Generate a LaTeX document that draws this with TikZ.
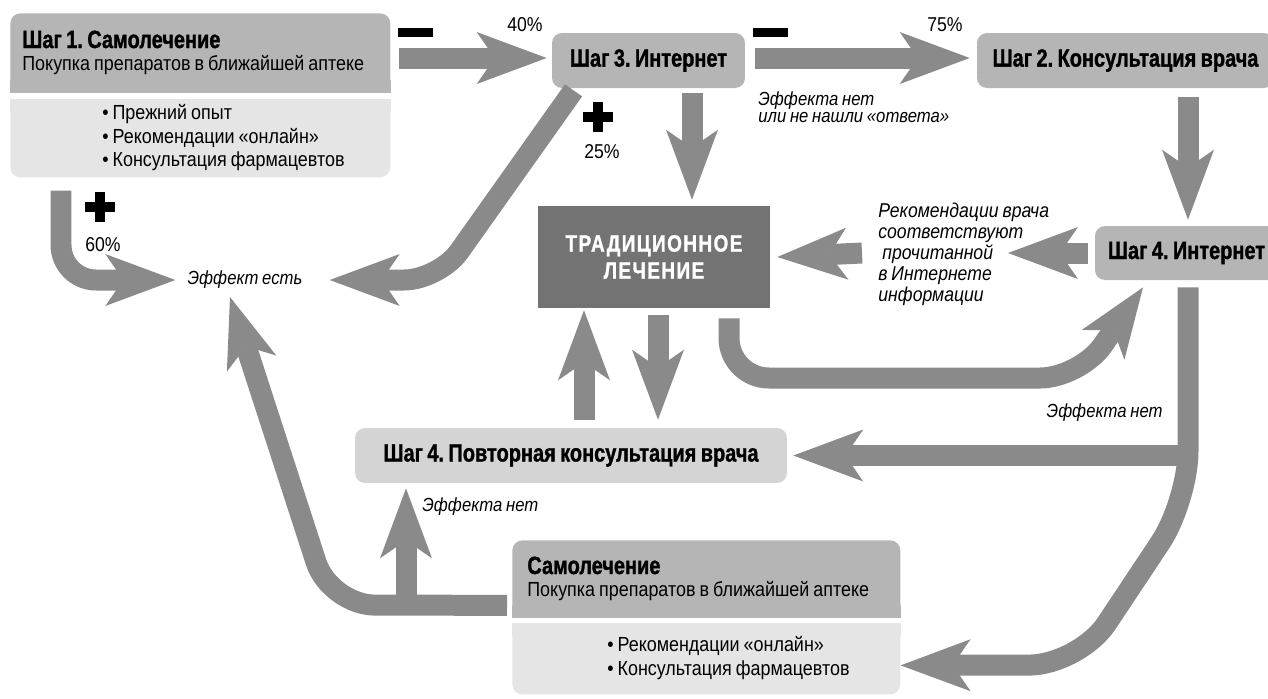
\documentclass[tikz,border=0pt]{standalone}
\usepackage{fontspec}
\setmainfont{Liberation Sans}[FakeStretch=0.88, WordSpace=0.8]
\newfontfamily\headfont{Liberation Sans Bold}[FakeStretch=0.8, FakeBold=1.2, WordSpace=0.8]
\newfontfamily\tradfont{Liberation Sans Bold}[FakeStretch=0.8, FakeBold=1.2, LetterSpace=6]
\usepackage{tikz}
\usetikzlibrary{arrows.meta}
\usetikzlibrary{backgrounds}
\frenchspacing
\definecolor{arrowgray}{gray}{0.54}
\definecolor{stepgray}{gray}{0.71}
\definecolor{listgray}{gray}{0.90}
\definecolor{repgray}{gray}{0.83}
\definecolor{tradgray}{gray}{0.45}
\tikzset{
    bigarrow/.style={draw=arrowgray, line width=0.42cm,
        -{Stealth[length=1.4cm, width=1.04cm, inset=0.36cm, line width=0pt]}},
    stepbox/.style={fill=stepgray, rounded corners=0.2cm, inner sep=0pt,
        font=\headfont\fontsize{14.2}{13}\selectfont},
    listbox/.style={fill=listgray, rounded corners=0.2cm, inner sep=0pt, align=flush left,
        font=\fontsize{11.6}{13.4}\selectfont},
    note/.style={inner sep=0pt, align=flush left, font=\fontsize{10.8}{10}\selectfont\itshape},
    pct/.style={inner sep=0pt, font=\fontsize{11.4}{13}\selectfont}
}

\begin{document}
\begin{tikzpicture}[x=0.02cm, y=-0.02cm]
    \useasboundingbox (0, 0) rectangle (1268, 698);
    % boxes
    \node[stepbox, anchor=north west, minimum width=7.6cm, minimum height=1.58cm,
        text width=7.12cm, align=flush left] (self1) at (10, 13)
        {Шаг 1. Самолечение\\\normalfont\fontsize{11.6}{13}\selectfont Покупка препаратов в ближайшей аптеке};
    \node[listbox, anchor=north west, text width=7.6cm, minimum height=1.56cm] (self1list) at (10, 99)
        {\hspace*{1.84cm}\begin{tabular}{@{}l@{}}• Прежний опыт\\• Рекомендации «онлайн»\\• Консультация фармацевтов\end{tabular}};
    \node[stepbox, minimum width=3.86cm, minimum height=1.1cm] (net3) at (648.5, 60.5) {Шаг 3. Интернет};
    \node[stepbox, minimum width=5.94cm, minimum height=1.1cm] (doc2) at (1125.5, 60.5) {Шаг 2. Консультация врача};
    \node[stepbox, minimum width=3.66cm, minimum height=1.08cm] (net4) at (1186.5, 253) {Шаг 4. Интернет};
    \node[fill=tradgray, text=white, minimum width=4.64cm, minimum height=2.04cm, align=center,
        font=\tradfont\fontsize{13.5}{15.4}\selectfont] (trad) at (654, 257) {ТРАДИЦИОННОЕ\\ЛЕЧЕНИЕ};
    \node[stepbox, fill=repgray, minimum width=8.64cm, minimum height=1.1cm] (doc4) at (571, 455.5)
        {Шаг 4. Повторная консультация врача};
    \node[stepbox, anchor=north west, minimum width=7.76cm, minimum height=1.54cm,
        text width=7.16cm, align=flush left] (self2) at (512, 540)
        {Самолечение\\\normalfont\fontsize{11.6}{13}\selectfont Покупка препаратов в ближайшей аптеке};
    \node[listbox, anchor=north west, text width=7.76cm, minimum height=1.42cm] (self2list) at (512, 623)
        {\hspace*{1.9cm}\begin{tabular}{@{}l@{}}• Рекомендации «онлайн»\\• Консультация фармацевтов\end{tabular}};
    \begin{scope}[on background layer]
        \fill[stepgray](self1.south west) rectangle ([yshift=0.25cm]self1.south east);
        \fill[listgray]([yshift=-0.25cm]self1list.north west) rectangle (self1list.north east);
        \fill[stepgray](self2.south west) rectangle ([yshift=0.25cm]self2.south east);
        \fill[listgray]([yshift=-0.25cm]self2list.north west) rectangle (self2list.north east);
    \end{scope}
    % labels
    \node[pct] (pc40) at (525, 25) {40\%};
    \node[pct] (pc75) at (945, 25) {75\%};
    \node[pct] (pc25) at (602, 152) {25\%};
    \node[pct] (pc60) at (103, 245) {60\%};
    \node[note] (effyes) at (245, 280) {Эффект есть};
    \node[note, anchor=west] (nofx1) at (758, 107) {Эффекта нет\\или не нашли «ответа»};
    \node[note, anchor=west, font=\fontsize{11.4}{12}\selectfont\itshape] (rec) at (878, 254)
        {Рекомендации врача\\соответствуют\\\hspace*{0.08cm}прочитанной\\в Интернете\\информации};
    \node[note, anchor=west] (nofx2) at (422, 507) {Эффекта нет};
    \node[note, anchor=east] (nofx3) at (1163, 413) {Эффекта нет};
    % signs
    \fill(398, 28) rectangle (433, 37);
    \fill(753, 28) rectangle (788, 37);
    \fill(85, 202) rectangle (115, 212);
    \fill(95, 192) rectangle (105, 222);
    \fill(583, 112) rectangle (613, 122);
    \fill(593, 102) rectangle (603, 132);
    % arrows
    \coordinate (col1) at (61, 0);
    \coordinate (col2) at (406, 0);
    \coordinate (col3) at (584, 0);
    \coordinate (col5) at (658, 0);
    \coordinate (colnet) at (692, 0);
    \coordinate (col6) at (729, 0);
    \coordinate (col4) at (1188, 0);
    \coordinate (recright) at (1008, 253);
    \coordinate (recleft) at (862, 253);
    \coordinate (efftip) at (230, 297);
    \coordinate (fork) at (406, 605);
    \draw[bigarrow]([xshift=0.16cm, yshift=0.05cm]self1.east |- net3.west) -- ([xshift=-0.1cm, yshift=0.05cm]net3.west);
    \draw[bigarrow]([xshift=0.2cm, yshift=0.05cm]net3.east) -- ([xshift=-0.14cm, yshift=0.05cm]doc2.west);
    \draw[bigarrow]([yshift=-0.18cm]doc2.south -| col4) -- ([yshift=0.12cm]net4.north -| col4);
    \draw[bigarrow]([xshift=-0.14cm]net4.west) -- (recright);
    \draw[bigarrow](recleft) -- ([xshift=0.14cm]trad.east);
    \draw[bigarrow]([yshift=-0.1cm]net3.south -| colnet) -- ([yshift=0.12cm]trad.north -| colnet);
    \draw[bigarrow, rounded corners=0.7cm]([xshift=-1.5cm, yshift=-0.04cm]net3.south) -- (439, 280)
        -- ([xshift=0.54cm]effyes.east);
    \draw[bigarrow, rounded corners=0.7cm]([yshift=-0.26cm]self1list.south -| col1)
        |- ([xshift=-0.24cm]effyes.west);
    \draw[bigarrow, rounded corners=0.9cm]([xshift=-0.1cm, yshift=-0.53cm]self2.west) -- (330, 605) -- (efftip);
    \draw[bigarrow](fork) -- ([yshift=-0.1cm]doc4.south -| col2);
    \draw[bigarrow]([yshift=0.16cm]doc4.north -| col3) -- ([yshift=-0.04cm]trad.south -| col3);
    \draw[bigarrow]([yshift=-0.14cm]trad.south -| col5) -- ([yshift=0.16cm]doc4.north -| col5);
    \draw[bigarrow, rounded corners=0.8cm]([yshift=-0.2cm]trad.south -| col6) |- (1080, 378)
        -- ([xshift=-0.87cm, yshift=-0.14cm]net4.south);
    \draw[bigarrow, rounded corners=1cm]([yshift=-0.14cm]net4.south -| col4) -- (1188, 501) -- (1079, 665)
        -- ([yshift=-0.13cm]self2list.east);
    \draw[bigarrow](col4 |- doc4) -- ([xshift=0.12cm]doc4.east);
\end{tikzpicture}
\end{document}
